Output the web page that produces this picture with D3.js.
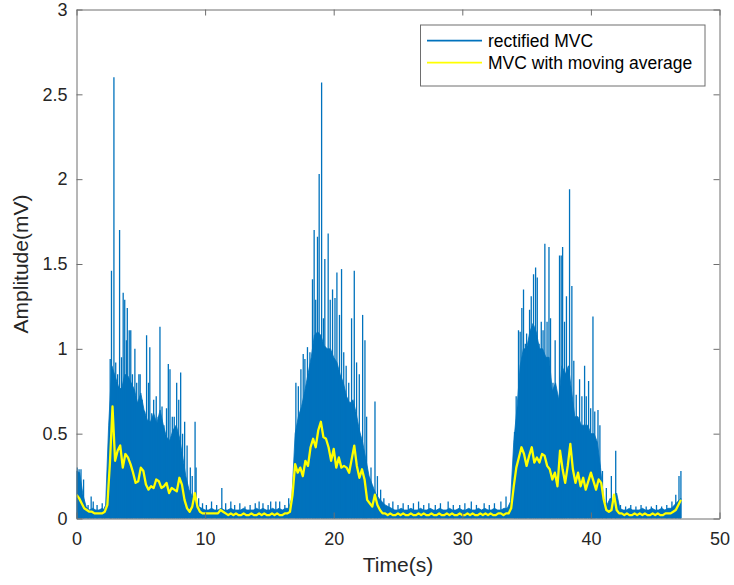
<!DOCTYPE html>
<html>
<head>
<meta charset="utf-8">
<script src="https://cdn.jsdelivr.net/npm/d3@7"></script>
<style>
  body { margin: 0; background: #fff; }
  text { font-family: "Liberation Sans", Arial, sans-serif; }
</style>
</head>
<body>
<svg id="canvas"></svg>
<script>
// values
let bodyStep = 0.25   // solid part of the rectified signal, one value every 0.25 s
let rectBody = [
  0.28,0.27,0.14,0.07,0.05,0.06,0.05,0.05,0.06,0.05,
  0.55,0.90,0.84,0.78,0.76,0.85,0.84,0.80,0.76,0.68,
  0.74,0.64,0.58,0.57,0.62,0.56,0.64,0.55,0.48,0.46,
  0.52,0.55,0.48,0.37,0.25,0.17,0.13,0.09,0.07,0.06,
  0.05,0.05,0.06,0.05,0.05,0.06,0.05,0.05,0.06,0.05,
  0.05,0.05,0.06,0.05,0.05,0.05,0.06,0.05,0.06,0.05,
  0.05,0.06,0.05,0.06,0.05,0.06,0.06,0.12,0.50,0.60,
  0.66,0.75,0.85,0.95,1.08,1.10,1.08,1.02,1.00,1.00,
  0.95,0.92,0.85,0.80,0.72,0.68,0.70,0.62,0.52,0.45,
  0.35,0.25,0.20,0.15,0.12,0.10,0.08,0.07,0.06,0.05,
  0.05,0.06,0.05,0.05,0.06,0.05,0.05,0.06,0.05,0.05,
  0.06,0.05,0.05,0.06,0.05,0.05,0.06,0.05,0.05,0.06,
  0.05,0.05,0.06,0.05,0.05,0.06,0.05,0.06,0.05,0.05,
  0.06,0.05,0.05,0.06,0.06,0.10,0.45,0.65,0.90,1.00,
  1.00,1.10,1.15,1.10,1.00,1.00,0.95,0.95,0.75,0.80,
  0.70,0.90,0.85,0.90,0.75,0.60,0.60,0.55,0.55,0.55,
  0.50,0.50,0.45,0.30,0.10,0.08,0.12,0.10,0.15,0.06,
  0.05,0.05,0.06,0.05,0.05,0.05,0.06,0.05,0.05,0.06,
  0.05,0.05,0.06,0.05,0.06,0.06,0.08,0.10,0.12
]

// single peaks of the rectified signal (time s, amplitude mV)
let spikeT = [
  0.05,0.2,0.35,0.55,0.9,1.14,1.3,1.6,2.0,2.2,
  2.62,2.72,2.91,3.05,3.2,3.35,3.5,3.63,3.75,3.88,3.95,4.1,4.22,4.35,4.54,4.68,4.85,4.95,
  5.1,5.3,5.45,5.6,5.7,5.85,6.0,6.2,6.35,6.49,6.65,6.8,7.0,7.14,7.27,7.45,7.6,7.79,7.95,
  8.1,8.25,8.41,8.6,8.85,9.0,9.22,9.3,9.5,
  9.8,10.1,10.5,10.9,11.3,11.6,12.0,12.3,12.7,13.1,13.5,13.9,14.2,14.5,14.9,15.1,15.5,15.8,16.2,16.5,
  17.06,17.25,17.45,17.63,17.76,17.96,18.15,18.35,18.48,18.6,18.74,18.87,19.06,19.2,19.31,19.44,
  19.57,19.73,19.91,20.1,20.25,20.45,20.61,20.78,20.97,21.17,21.39,21.6,21.78,21.99,22.25,22.43,
  22.56,22.9,23.21,23.4,23.65,
  23.9,24.3,24.6,25.0,25.4,25.8,26.2,26.6,27.0,27.4,27.9,28.3,28.9,29.3,29.8,30.2,30.7,31.1,
  31.7,32.1,32.5,33.0,33.4,
  34.06,34.19,34.37,34.5,34.63,34.76,34.9,35.0,35.23,35.36,35.54,35.7,35.83,35.97,36.14,36.28,
  36.42,36.59,36.74,36.86,37.05,37.22,37.4,37.56,37.69,37.8,37.95,38.1,38.34,38.52,38.67,38.86,
  39.12,39.3,39.51,39.64,39.82,39.98,40.16,40.3,40.55,40.7,40.9,41.2,41.59,41.93,
  42.3,42.7,43.1,43.5,43.9,44.3,44.7,45.1,45.5,45.9,46.3,46.6,46.85,47.0
]
let spikeV = [
  0.30,0.29,0.29,0.23,0.08,0.13,0.10,0.08,0.09,0.07,
  0.94,1.46,2.60,0.92,0.85,1.70,0.95,1.33,1.29,1.05,1.24,1.11,1.11,0.85,1.00,0.80,0.85,0.85,
  0.70,0.63,1.08,0.80,1.01,0.62,0.70,0.72,0.60,1.13,0.66,0.55,0.65,0.91,0.88,0.60,0.60,0.80,0.70,
  0.86,0.50,0.57,0.43,0.30,0.25,0.57,0.30,0.12,
  0.09,0.08,0.10,0.08,0.18,0.09,0.10,0.08,0.09,0.07,0.08,0.09,0.10,0.09,0.08,0.10,0.10,0.10,0.08,0.12,
  0.80,0.78,0.88,0.97,0.94,1.01,0.98,1.41,1.70,1.29,1.66,2.03,2.57,1.18,1.53,0.99,
  1.68,1.29,1.35,1.30,1.45,1.20,1.47,0.98,0.90,0.80,1.18,1.46,0.92,0.85,1.20,1.05,
  0.60,0.30,0.69,0.25,0.17,
  0.12,0.09,0.10,0.08,0.09,0.08,0.09,0.10,0.08,0.09,0.08,0.09,0.10,0.08,0.08,0.09,0.10,0.08,
  0.09,0.08,0.09,0.10,0.13,
  0.51,0.72,1.11,1.10,1.24,1.35,1.03,1.09,1.23,1.31,1.44,1.48,1.42,1.03,1.16,1.11,
  1.62,1.16,1.60,1.18,0.80,1.05,0.73,1.55,1.55,1.60,1.16,1.31,1.94,1.37,0.93,0.73,
  0.82,0.72,0.90,0.72,0.81,0.65,1.19,0.63,0.64,0.55,0.28,0.18,0.25,0.40,
  0.08,0.07,0.08,0.07,0.08,0.07,0.07,0.08,0.07,0.08,0.10,0.14,0.25,0.28
]

let avgStep = 0.2   // moving average, one value every 0.2 s
let movAvg = [
  0.14,0.12,0.09,0.06,0.05,0.04,0.04,0.03,0.03,0.03,
  0.03,0.04,0.08,0.33,0.66,0.34,0.40,0.43,0.30,0.38,
  0.36,0.32,0.27,0.21,0.22,0.30,0.28,0.20,0.17,0.19,
  0.18,0.23,0.22,0.18,0.19,0.21,0.15,0.18,0.17,0.16,
  0.24,0.20,0.11,0.06,0.04,0.07,0.15,0.07,0.04,0.03,
  0.03,0.03,0.03,0.03,0.03,0.03,0.05,0.04,0.03,0.02,
  0.03,0.02,0.03,0.02,0.02,0.03,0.02,0.02,0.03,0.02,
  0.02,0.03,0.02,0.03,0.02,0.02,0.03,0.02,0.03,0.02,
  0.02,0.03,0.03,0.04,0.14,0.32,0.27,0.30,0.25,0.34,
  0.31,0.42,0.47,0.42,0.52,0.57,0.48,0.47,0.42,0.34,
  0.41,0.30,0.36,0.30,0.31,0.30,0.27,0.35,0.43,0.31,
  0.24,0.29,0.23,0.11,0.09,0.07,0.14,0.08,0.05,0.03,
  0.03,0.02,0.03,0.02,0.02,0.03,0.02,0.03,0.02,0.02,
  0.03,0.02,0.02,0.03,0.02,0.03,0.02,0.02,0.03,0.02,
  0.02,0.03,0.02,0.02,0.03,0.02,0.03,0.02,0.02,0.03,
  0.02,0.02,0.03,0.02,0.03,0.02,0.02,0.03,0.02,0.03,
  0.02,0.03,0.02,0.02,0.03,0.03,0.02,0.03,0.03,0.06,
  0.19,0.30,0.36,0.42,0.38,0.31,0.37,0.42,0.33,0.36,
  0.33,0.38,0.37,0.31,0.29,0.23,0.27,0.19,0.40,0.29,
  0.21,0.31,0.44,0.29,0.21,0.27,0.19,0.24,0.17,0.22,
  0.27,0.22,0.17,0.23,0.21,0.11,0.05,0.04,0.05,0.14,
  0.05,0.03,0.03,0.02,0.03,0.02,0.02,0.03,0.02,0.03,
  0.02,0.03,0.02,0.02,0.03,0.02,0.03,0.02,0.02,0.03,
  0.03,0.03,0.04,0.05,0.08,0.11
]

let xTicks = [0, 10, 20, 30, 40, 50]
let yTicks = [0, 0.5, 1, 1.5, 2, 2.5, 3]
let seriesNames = ["rectified MVC", "MVC with moving average"]

let width = 734
let height = 585
let plotLeft = 76.5, plotRight = 719.5, plotTop = 9.5, plotBottom = 518.5

let blue = "#0072BD"
let yellow = "#FFFF00"
let textColor = "#262626"
let axisColor = "#6e6e6e"

let svg = d3.select('#canvas').attr('width', width).attr('height', height)

let xScale = d3.scaleLinear().domain([0, 50]).range([plotLeft, plotRight])
let yScale = d3.scaleLinear().domain([0, 3]).range([plotBottom, plotTop])

svg.append('defs').append('clipPath').attr('id', 'plotclip')
  .append('rect').attr('x', plotLeft).attr('y', plotTop)
  .attr('width', plotRight - plotLeft).attr('height', plotBottom - plotTop)

let plot = svg.append('g').attr('clip-path', 'url(#plotclip)')

// solid part of the rectified signal
let bodyArea = d3.area()
  .x((d, i) => xScale(i * bodyStep))
  .y0(yScale(0))
  .y1(d => yScale(d))
plot.append('path').datum(rectBody)
  .attr('d', bodyArea)
  .attr('fill', blue)
  .attr('stroke', blue)
  .attr('stroke-width', 0.8)

// peaks
plot.selectAll('line.spike').data(spikeT).join('line')
  .attr('class', 'spike')
  .attr('x1', d => xScale(d)).attr('x2', d => xScale(d))
  .attr('y1', yScale(0))
  .attr('y2', (d, i) => yScale(spikeV[i]))
  .attr('stroke', blue)
  .attr('stroke-width', 1.3)

// moving average
let avgLine = d3.line()
  .x((d, i) => xScale(i * avgStep))
  .y(d => yScale(d))
plot.append('path').datum(movAvg)
  .attr('d', avgLine)
  .attr('fill', 'none')
  .attr('stroke', yellow)
  .attr('stroke-width', 2.3)
  .attr('stroke-linejoin', 'round')

// axes, ticks inward on all four sides
let styleAxis = g => {
  g.select('.domain').attr('stroke', axisColor).attr('stroke-width', 1)
  g.selectAll('.tick line').attr('stroke', axisColor).attr('stroke-width', 1)
  g.selectAll('.tick text').attr('fill', textColor).attr('font-size', 18)
    .attr('font-family', '"Liberation Sans", Arial, sans-serif')
}

svg.append('g').attr('transform', `translate(0,${plotBottom})`)
  .call(d3.axisBottom(xScale).tickValues(xTicks).tickSizeInner(-6).tickSizeOuter(0).tickPadding(14))
  .call(styleAxis)
svg.append('g').attr('transform', `translate(0,${plotTop})`)
  .call(d3.axisTop(xScale).tickValues(xTicks).tickSizeInner(-6).tickSizeOuter(0).tickFormat(''))
  .call(styleAxis)
svg.append('g').attr('transform', `translate(${plotLeft},0)`)
  .call(d3.axisLeft(yScale).tickValues(yTicks).tickSizeInner(-6).tickSizeOuter(0).tickPadding(9)
    .tickFormat(d3.format('')))
  .call(styleAxis)
svg.append('g').attr('transform', `translate(${plotRight},0)`)
  .call(d3.axisRight(yScale).tickValues(yTicks).tickSizeInner(-6).tickSizeOuter(0).tickFormat(''))
  .call(styleAxis)

// axis titles
svg.append('text')
  .attr('x', (plotLeft + plotRight) / 2).attr('y', 572)
  .attr('text-anchor', 'middle').attr('font-size', 21).attr('fill', textColor)
  .text('Time(s)')
svg.append('text')
  .attr('transform', `translate(28,${(plotTop + plotBottom) / 2}) rotate(-90)`)
  .attr('text-anchor', 'middle').attr('font-size', 21).attr('fill', textColor)
  .text('Amplitude(mV)')

// legend
let legend = svg.append('g')
legend.append('rect')
  .attr('x', 420.5).attr('y', 25).attr('width', 284.5).attr('height', 61)
  .attr('fill', '#fff').attr('stroke', axisColor).attr('stroke-width', 1)
let legendColors = [blue, yellow]
seriesNames.forEach((name, i) => {
  let ly = 40.7 + i * 22
  legend.append('line')
    .attr('x1', 427).attr('x2', 482).attr('y1', ly).attr('y2', ly)
    .attr('stroke', legendColors[i]).attr('stroke-width', 1.8)
  legend.append('text')
    .attr('x', 488).attr('y', ly + 6.3)
    .attr('font-size', 17.5).attr('fill', '#000')
    .text(name)
})
</script>
</body>
</html>
